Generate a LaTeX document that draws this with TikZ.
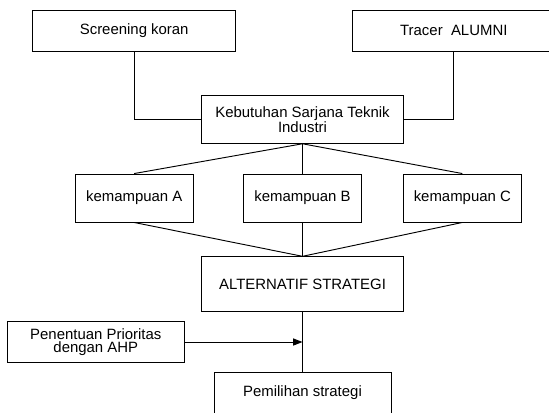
\documentclass[tikz,border=0pt]{standalone}
\usepackage{fontspec}
\setmainfont{Liberation Sans}
\usetikzlibrary{arrows.meta}
\tikzset{
  >={Triangle[length=7pt,width=5.3pt]},
  bx/.style={draw,rectangle,align=center,inner sep=0pt,font=\fontsize{11.2}{10}\selectfont},
  wide/.style={bx,minimum width=152.3pt},
  kem/.style={bx,minimum width=88.3pt,minimum height=36pt},
  every picture/.style={line width=0.7pt},
}

\begin{document}
\begin{tikzpicture}[x=0.75pt,y=-0.75pt]
\useasboundingbox (0,0) rectangle (549,412);
\clip (0,0) rectangle (549,412);
\node[wide,minimum height=30.8pt] (scr) at (134.2,30.5){Screening koran};
\node[wide,minimum height=30.8pt] (tra) at (453.8,30.5){Tracer\ \ ALUMNI};
\node[wide,minimum width=151.2pt,minimum height=35.7pt] (keb) at (302.5,119.5){Kebutuhan Sarjana Teknik\\Industri};
\node[kem] (kA) at (134.2,198){kemampuan A};
\node[kem] (kB) at (302.5,198){kemampuan B};
\node[kem] (kC) at (462.3,198){kemampuan C};
\node[wide,minimum width=151.2pt,minimum height=40.7pt] (alt) at (302.5,283.9){ALTERNATIF STRATEGI};
\node[bx,minimum width=132.8pt,minimum height=30.5pt] (pen) at (95.8,342){Penentuan Prioritas\\dengan AHP};
\node[bx,minimum width=132.8pt,minimum height=30.8pt] (pem) at (302.5,392.5){Pemilihan strategi};
\draw (scr.south) |- (keb.west);
\draw (tra.south) |- (keb.east);
\foreach \k in {kA,kB,kC}{\draw (keb.south) -- (\k.north); \draw (\k.south) -- (alt.north);}
\draw (alt.south) -- (pem.north);
\coordinate (join) at (alt.south |- pen.east);
\draw[->] (pen.east) -- (join);
\end{tikzpicture}
\end{document}
